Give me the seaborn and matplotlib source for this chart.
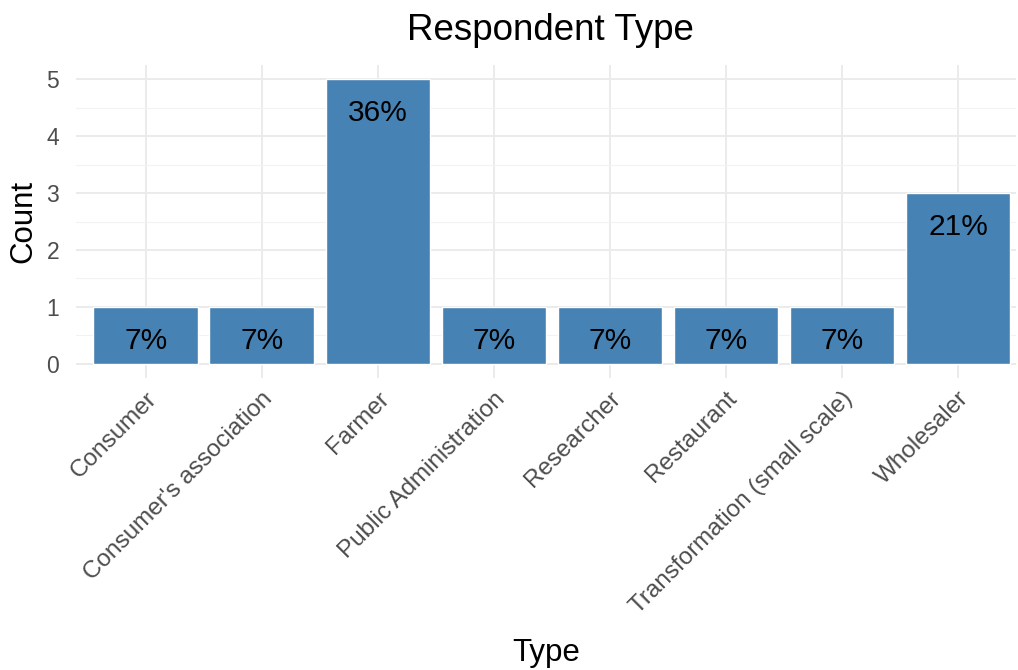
import matplotlib
matplotlib.use("Agg")
import matplotlib.pyplot as plt
import seaborn as sns
import pandas as pd
from matplotlib.ticker import MultipleLocator

categories = ["Consumer", "Consumer's association", "Farmer", "Public Administration",
              "Researcher", "Restaurant", "Transformation (small scale)", "Wholesaler"]
counts = [1, 1, 5, 1, 1, 1, 1, 3]
pct_labels = ["7%", "7%", "36%", "7%", "7%", "7%", "7%", "21%"]

df = pd.DataFrame({"Type": categories, "Count": counts})

sns.set_style("white")
plt.rcParams['font.family'] = ['Liberation Sans', 'DejaVu Sans']

fig = plt.figure(figsize=(10.18, 6.70), dpi=100)
W, H = 1018, 670
left, right, top, bottom = 76, 1016, 65, 378
ax = fig.add_axes([left / W, 1 - bottom / H, (right - left) / W, (bottom - top) / H])

sns.barplot(data=df, x="Type", y="Count", color="#4682B4", saturation=1,
            width=0.9, ax=ax, zorder=3)

for i, (c, lab) in enumerate(zip(counts, pct_labels)):
    ax.text(i, c - 0.6, lab, ha="center", va="center", fontsize=21.5, color="black", zorder=4)

ax.set_xlim(-0.6, 7.5)
ax.set_ylim(-0.25, 5.25)
ax.yaxis.set_major_locator(MultipleLocator(1))
ax.yaxis.set_minor_locator(MultipleLocator(0.5))
ax.grid(True, which="major", color="#EBEBEB", linewidth=1.4, zorder=0)
ax.grid(True, which="minor", axis="y", color="#F2F2F2", linewidth=0.8, zorder=0)
ax.set_axisbelow(True)
for s in ax.spines.values():
    s.set_visible(False)

ax.tick_params(axis="both", which="both", length=0, labelcolor="#4D4D4D")
ax.tick_params(axis="x", labelsize=17.5, pad=7)
ax.tick_params(axis="y", labelsize=16.5, pad=12)
plt.setp(ax.get_xticklabels(), rotation=45, ha="right", rotation_mode="anchor")

ax.set_xlabel("Type", fontsize=22.5, color="black")
ax.xaxis.set_label_coords(0.5, -(638 - bottom) / (bottom - top))
ax.set_ylabel("Count", fontsize=22.5, color="black")
ax.yaxis.set_label_coords(-(76 - 38) / (right - left), 0.5)
fig.text(550 / W, 1 - 30 / H, "Respondent Type", fontsize=26.5, color="black",
         ha="center", va="center")

fig.savefig("out.png", dpi=100)
